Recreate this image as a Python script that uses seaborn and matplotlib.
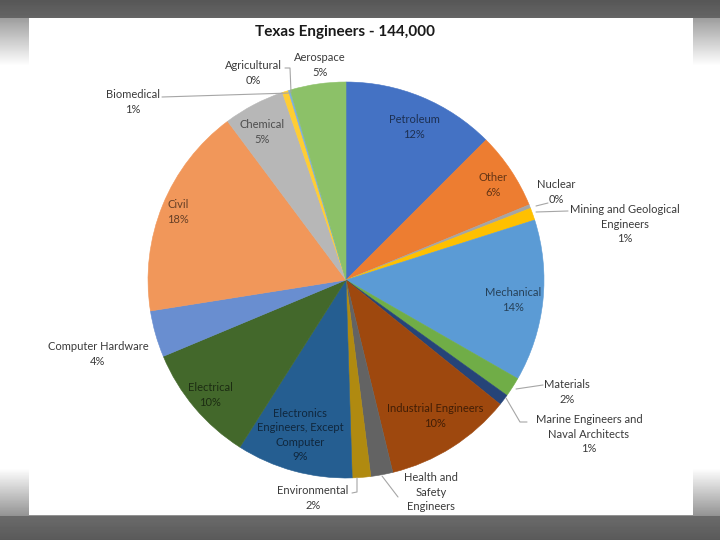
import numpy as np
import matplotlib
matplotlib.use('Agg')
import matplotlib.pyplot as plt
import matplotlib.colors as mcolors
from matplotlib.patches import Rectangle
import seaborn as sns

# Data (shares in percent)
categories = ['Petroleum', 'Other', 'Nuclear', 'Mining and Geological\nEngineers',
              'Mechanical', 'Materials', 'Marine Engineers and\nNaval Architects',
              'Industrial Engineers', 'Health and\nSafety\nEngineers', 'Environmental',
              'Electronics\nEngineers, Except\nComputer', 'Electrical', 'Computer Hardware',
              'Civil', 'Chemical', 'Biomedical', 'Agricultural', 'Aerospace']
shares = [12.5, 6.3, 0.3, 1.0, 13.2, 1.6, 0.9, 10.4, 1.8, 1.5,
          9.5, 9.7, 3.8, 17.3, 5.0, 0.5, 0.15, 4.55]
pct_labels = ['12%', '6%', '0%', '1%', '14%', '2%', '1%', '10%', '', '2%',
              '9%', '10%', '4%', '18%', '5%', '1%', '0%', '5%']
title = 'Texas Engineers - 144,000'

colors = ['#4472C4', '#ED7D31', '#A5A5A5', '#FFC000', '#5B9BD5', '#70AD47',
          '#264478', '#9E480E', '#636363', '#B08A10', '#255E91', '#43682B',
          '#698ED0', '#F1975A', '#B7B7B7', '#FFCD33', '#7CAFDD', '#8CC168']

# label layout in pixel coordinates of the 720x540 picture
inside = [True, True, False, False, True, False, False, True, False, False,
          True, True, False, True, True, False, False, False]
label_px = [(414, 127), (493, 185), (556, 192), (625, 224), (513, 300), (567, 392),
            (589, 434), (435, 416), (431, 492), (313, 498), (300, 435), (210, 395),
            (98, 354), (178, 212), (262, 132), (133, 102), (253, 73), (320, 65)]
leaders = {
    2: [(536, 206), (548, 203)],
    3: [(536, 212), (568, 211)],
    5: [(516, 389), (543, 385)],
    6: [(506, 398), (520, 422), (527, 422)],
    8: [(382, 476), (398, 497)],
    9: [(357, 478), (357, 492), (352, 493)],
    15: [(290, 93), (162, 97)],
    16: [(291, 92), (290, 68), (285, 68)],
}

CX, CY, R = 346, 280, 198


def to_data(px, py):
    return (px - CX) / R, (CY - py) / R


sns.set_theme(style='white')
plt.rcParams['font.family'] = ['Lato', 'DejaVu Sans']

fig = plt.figure(figsize=(7.2, 5.4), dpi=100)

# gray vignette frame behind a white panel
bg = fig.add_axes([0, 0, 1, 1])
bg.set_axis_off()
ys = np.arange(540)
g = np.ones(540)
g[ys < 18] = 0.34 + 0.06 * ys[ys < 18] / 18
m = (ys >= 18) & (ys < 65)
g[m] = 0.62 + 0.38 * (ys[m] - 18) / 47
m = (ys > 468) & (ys <= 515)
g[m] = 1 - 0.42 * (ys[m] - 468) / 47
m = ys > 515
g[m] = 0.42 - 0.07 * (ys[m] - 515) / 25
bg.imshow(np.tile(g[:, None], (1, 720)), cmap='gray', vmin=0, vmax=1,
          extent=(0, 720, 540, 0), aspect='auto')
bg.add_patch(Rectangle((29, 18), 664, 497, facecolor='white', edgecolor='none'))
bg.set_xlim(0, 720)
bg.set_ylim(540, 0)
bg.text(345, 32, title, ha='center', va='center', fontsize=11, fontweight='bold',
        color='#1a1a1a')

ax = fig.add_axes([(CX - R) / 720, (540 - CY - R) / 540, 2 * R / 720, 2 * R / 540])
wedges, _ = ax.pie(shares, colors=colors, startangle=90, counterclock=False,
                   radius=1, wedgeprops=dict(linewidth=0.4, edgecolor='white'))
for w, c in zip(wedges, colors):
    w.set_edgecolor(c)
ax.set_xlim(-1, 1)
ax.set_ylim(-1, 1)
ax.set_axis_off()

for i, (name, pct) in enumerate(zip(categories, pct_labels)):
    text = name + ('\n' + pct if pct else '')
    x, y = to_data(*label_px[i])
    if inside[i]:
        col = tuple(np.array(mcolors.to_rgb(colors[i])) * 0.42)
    else:
        col = '#3a3a3a'
    ax.text(x, y, text, ha='center', va='center', fontsize=8, color=col,
            linespacing=1.35, clip_on=False)
    if i in leaders:
        pts = np.array([to_data(*p) for p in leaders[i]])
        ax.plot(pts[:, 0], pts[:, 1], color='#a6a6a6', linewidth=0.8, clip_on=False)

fig.savefig('out.png', dpi=100)
